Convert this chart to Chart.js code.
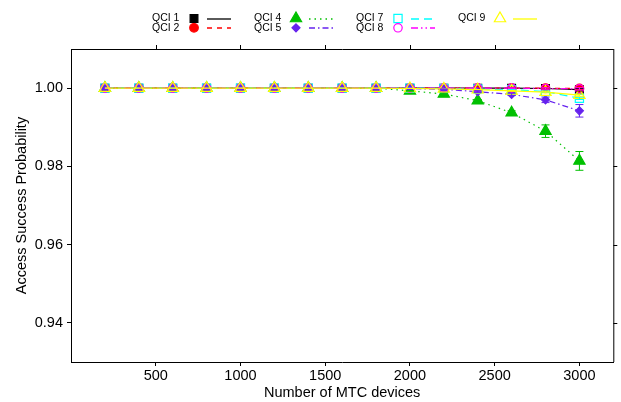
<!DOCTYPE html>
<html>
<head>
<meta charset="utf-8">
<script src="https://cdn.jsdelivr.net/npm/chart.js@4"></script>
<style>
  html, body { margin: 0; padding: 0; background: #fff; }
</style>
</head>
<body>
<canvas id="asp" width="621" height="402"></canvas>
<script>
const devices = [200, 400, 600, 800, 1000, 1200, 1400, 1600, 1800, 2000, 2200, 2400, 2600, 2800, 3000];
const xTicks = [500, 1000, 1500, 2000, 2500, 3000];
const yTicks = [0.94, 0.96, 0.98, 1.00];

const qci1 = [1, 1, 1, 1, 1, 1, 1, 1, 1, 1, 1, 1, 1, 0.9999, 0.9996];
const qci2 = [1, 1, 1, 1, 1, 1, 1, 1, 1, 1, 1, 1, 1, 1, 0.9999];
const qci4 = [1, 1, 1, 1, 1, 1, 1, 1, 1, 0.9993, 0.9985, 0.9968, 0.9937, 0.9890, 0.9814];
const qci5 = [1, 1, 1, 1, 1, 1, 1, 1, 1, 0.9999, 0.9997, 0.9991, 0.9984, 0.9970, 0.9942];
const qci7 = [1, 1, 1, 1, 1, 1, 1, 1, 1, 1, 0.9999, 0.9998, 0.9996, 0.9991, 0.9974];
const qci8 = [1, 1, 1, 1, 1, 1, 1, 1, 1, 1, 1, 1, 1, 0.9999, 0.9998];
const qci9 = [1, 1, 1, 1, 1, 1, 1, 1, 1, 0.9999, 0.9998, 0.9996, 0.9993, 0.9990, 0.9982];

// half-width of the error bars
const err4 = [0, 0, 0, 0, 0, 0, 0, 0, 0, 0.0001, 0.0002, 0.0003, 0.0005, 0.0016, 0.0024];
const err5 = [0, 0, 0, 0, 0, 0, 0, 0, 0, 0, 0.0001, 0.0002, 0.0003, 0.0007, 0.0016];
const errSmall = [0, 0, 0, 0, 0, 0, 0, 0, 0, 0, 0, 0, 0.0001, 0.0002, 0.0003];

const FONT = '"Liberation Sans", Arial, sans-serif';

const series = [
  { label: 'QCI 1', data: qci1, err: errSmall, color: '#000000', fill: '#000000', style: 'rect', r: 5.5, dash: [] },
  { label: 'QCI 2', data: qci2, err: errSmall, color: '#ff0000', fill: '#ff0000', style: 'circle', r: 4.3, dash: [5, 5] },
  { label: 'QCI 4', data: qci4, err: err4, color: '#00c000', fill: '#00c000', style: 'triangle', r: 6.5, dash: [1.5, 4] },
  { label: 'QCI 5', data: qci5, err: err5, color: '#6622ee', fill: '#6622ee', style: 'rectRot', r: 4, dash: [6, 3, 1.5, 3] },
  { label: 'QCI 7', data: qci7, err: errSmall, color: '#00ffff', fill: 'rgba(0,0,0,0)', style: 'rect', r: 5.8, dash: [8, 5] },
  { label: 'QCI 8', data: qci8, err: errSmall, color: '#ff00ff', fill: 'rgba(0,0,0,0)', style: 'circle', r: 4.2, dash: [7, 3, 1.5, 3, 1.5, 3] },
  { label: 'QCI 9', data: qci9, err: errSmall, color: '#ffff00', fill: 'rgba(0,0,0,0)', style: 'triangle', r: 6.5, dash: [] }
];

function marker(ctx, style, x, y, r, stroke, fill) {
  ctx.save();
  ctx.beginPath();
  if (style === 'rect') {
    const s = r * Math.SQRT1_2;
    ctx.rect(x - s, y - s, 2 * s, 2 * s);
  } else if (style === 'circle') {
    ctx.arc(x, y, r, 0, Math.PI * 2);
  } else if (style === 'triangle') {
    ctx.moveTo(x, y - r);
    ctx.lineTo(x + r * 0.866, y + r / 2);
    ctx.lineTo(x - r * 0.866, y + r / 2);
    ctx.closePath();
  } else if (style === 'rectRot') {
    ctx.moveTo(x, y - r);
    ctx.lineTo(x + r, y);
    ctx.lineTo(x, y + r);
    ctx.lineTo(x - r, y);
    ctx.closePath();
  }
  ctx.fillStyle = fill;
  ctx.fill();
  ctx.lineWidth = 1.2;
  ctx.strokeStyle = stroke;
  ctx.stroke();
  ctx.restore();
}

// error bars, drawn from the scales
const errorBars = {
  id: 'errorBars',
  afterDatasetsDraw(chart) {
    const { ctx, scales: { x, y } } = chart;
    ctx.save();
    ctx.lineWidth = 1;
    series.forEach(s => {
      ctx.strokeStyle = s.color;
      s.data.forEach((v, i) => {
        const e = s.err[i];
        if (!e) return;
        const px = x.getPixelForValue(devices[i]);
        const y1 = y.getPixelForValue(v + e);
        const y2 = y.getPixelForValue(v - e);
        ctx.beginPath();
        ctx.moveTo(px, y1); ctx.lineTo(px, y2);
        ctx.moveTo(px - 4, y1); ctx.lineTo(px + 4, y1);
        ctx.moveTo(px - 4, y2); ctx.lineTo(px + 4, y2);
        ctx.stroke();
      });
    });
    ctx.restore();
  }
};

// top/right border with mirrored ticks
const frame = {
  id: 'frame',
  afterDraw(chart) {
    const { ctx, chartArea: a, scales: { x, y } } = chart;
    ctx.save();
    ctx.strokeStyle = '#000';
    ctx.lineWidth = 1;
    ctx.beginPath();
    ctx.moveTo(a.left, a.top + 0.5); ctx.lineTo(a.right + 0.5, a.top + 0.5);
    ctx.moveTo(a.right + 0.5, a.top); ctx.lineTo(a.right + 0.5, a.bottom);
    xTicks.forEach(v => {
      const px = Math.round(x.getPixelForValue(v)) + 0.5;
      ctx.moveTo(px, a.top); ctx.lineTo(px, a.top - 4);
    });
    yTicks.forEach(v => {
      const py = Math.round(y.getPixelForValue(v)) + 0.5;
      ctx.moveTo(a.right, py); ctx.lineTo(a.right + 4, py);
    });
    ctx.stroke();
    ctx.restore();
  }
};

// gnuplot-like key: two rows, four columns
const key = {
  id: 'key',
  afterDraw(chart) {
    const ctx = chart.ctx;
    const colX = [152, 254, 356, 458];
    const rowY = [18.5, 27.8];
    ctx.save();
    ctx.font = '10.5px ' + FONT;
    ctx.textBaseline = 'middle';
    ctx.fillStyle = '#000';
    series.forEach((s, i) => {
      const col = Math.floor(i / 2);
      const row = i % 2;
      const tx = colX[col], ty = rowY[row];
      ctx.fillText(s.label, tx, ty);
      marker(ctx, s.style, tx + 42, ty, s.r, s.color, s.fill);
      ctx.beginPath();
      ctx.setLineDash(s.dash);
      ctx.strokeStyle = s.color;
      ctx.lineWidth = 1.3;
      ctx.moveTo(tx + 55, Math.round(ty));
      ctx.lineTo(tx + 79, Math.round(ty));
      ctx.stroke();
      ctx.setLineDash([]);
    });
    ctx.restore();
  }
};

const datasets = series.map((s, i) => ({
  label: s.label,
  data: devices.map((d, k) => ({ x: d, y: s.data[k] })),
  borderColor: s.color,
  borderWidth: 1.2,
  borderDash: s.dash,
  pointStyle: s.style,
  pointRadius: s.r,
  pointBackgroundColor: s.fill,
  pointBorderColor: s.color,
  pointBorderWidth: 1.2,
  fill: false,
  tension: 0,
  order: series.length - i
}));

const ctx = document.getElementById('asp').getContext('2d');
const aspChart = new Chart(ctx, {
  type: 'line',
  data: { datasets },
  plugins: [errorBars, frame, key],
  options: {
    responsive: false,
    devicePixelRatio: 1,
    animation: false,
    layout: { padding: { top: 49, right: 4, left: 0, bottom: 0 } },
    plugins: {
      legend: { display: false },
      tooltip: { enabled: false }
    },
    scales: {
      x: {
        type: 'linear',
        min: 0,
        max: 3200,
        afterBuildTicks: s => { s.ticks = xTicks.map(v => ({ value: v })); },
        afterFit: s => { s.height = 40; },
        ticks: { font: { family: FONT, size: 14.5 }, color: '#000', padding: 1, maxRotation: 0, autoSkip: false, callback: v => String(v) },
        grid: { drawOnChartArea: false, drawTicks: true, tickLength: 4, color: '#000' },
        border: { color: '#000', width: 1 },
        title: { display: true, text: 'Number of MTC devices', font: { family: FONT, size: 14.5 }, color: '#000', padding: 0 }
      },
      y: {
        min: 0.93,
        max: 1.01,
        afterBuildTicks: s => { s.ticks = yTicks.map(v => ({ value: v })); },
        afterFit: s => { s.width = 71; },
        ticks: { font: { family: FONT, size: 14.5 }, color: '#000', padding: 4, callback: v => v.toFixed(2) },
        grid: { drawOnChartArea: false, drawTicks: true, tickLength: 4, color: '#000' },
        border: { color: '#000', width: 1 },
        title: { display: true, text: 'Access Success Probability', font: { family: FONT, size: 14.5 }, color: '#000', padding: { top: 13 } }
      }
    }
  }
});
</script>
</body>
</html>
